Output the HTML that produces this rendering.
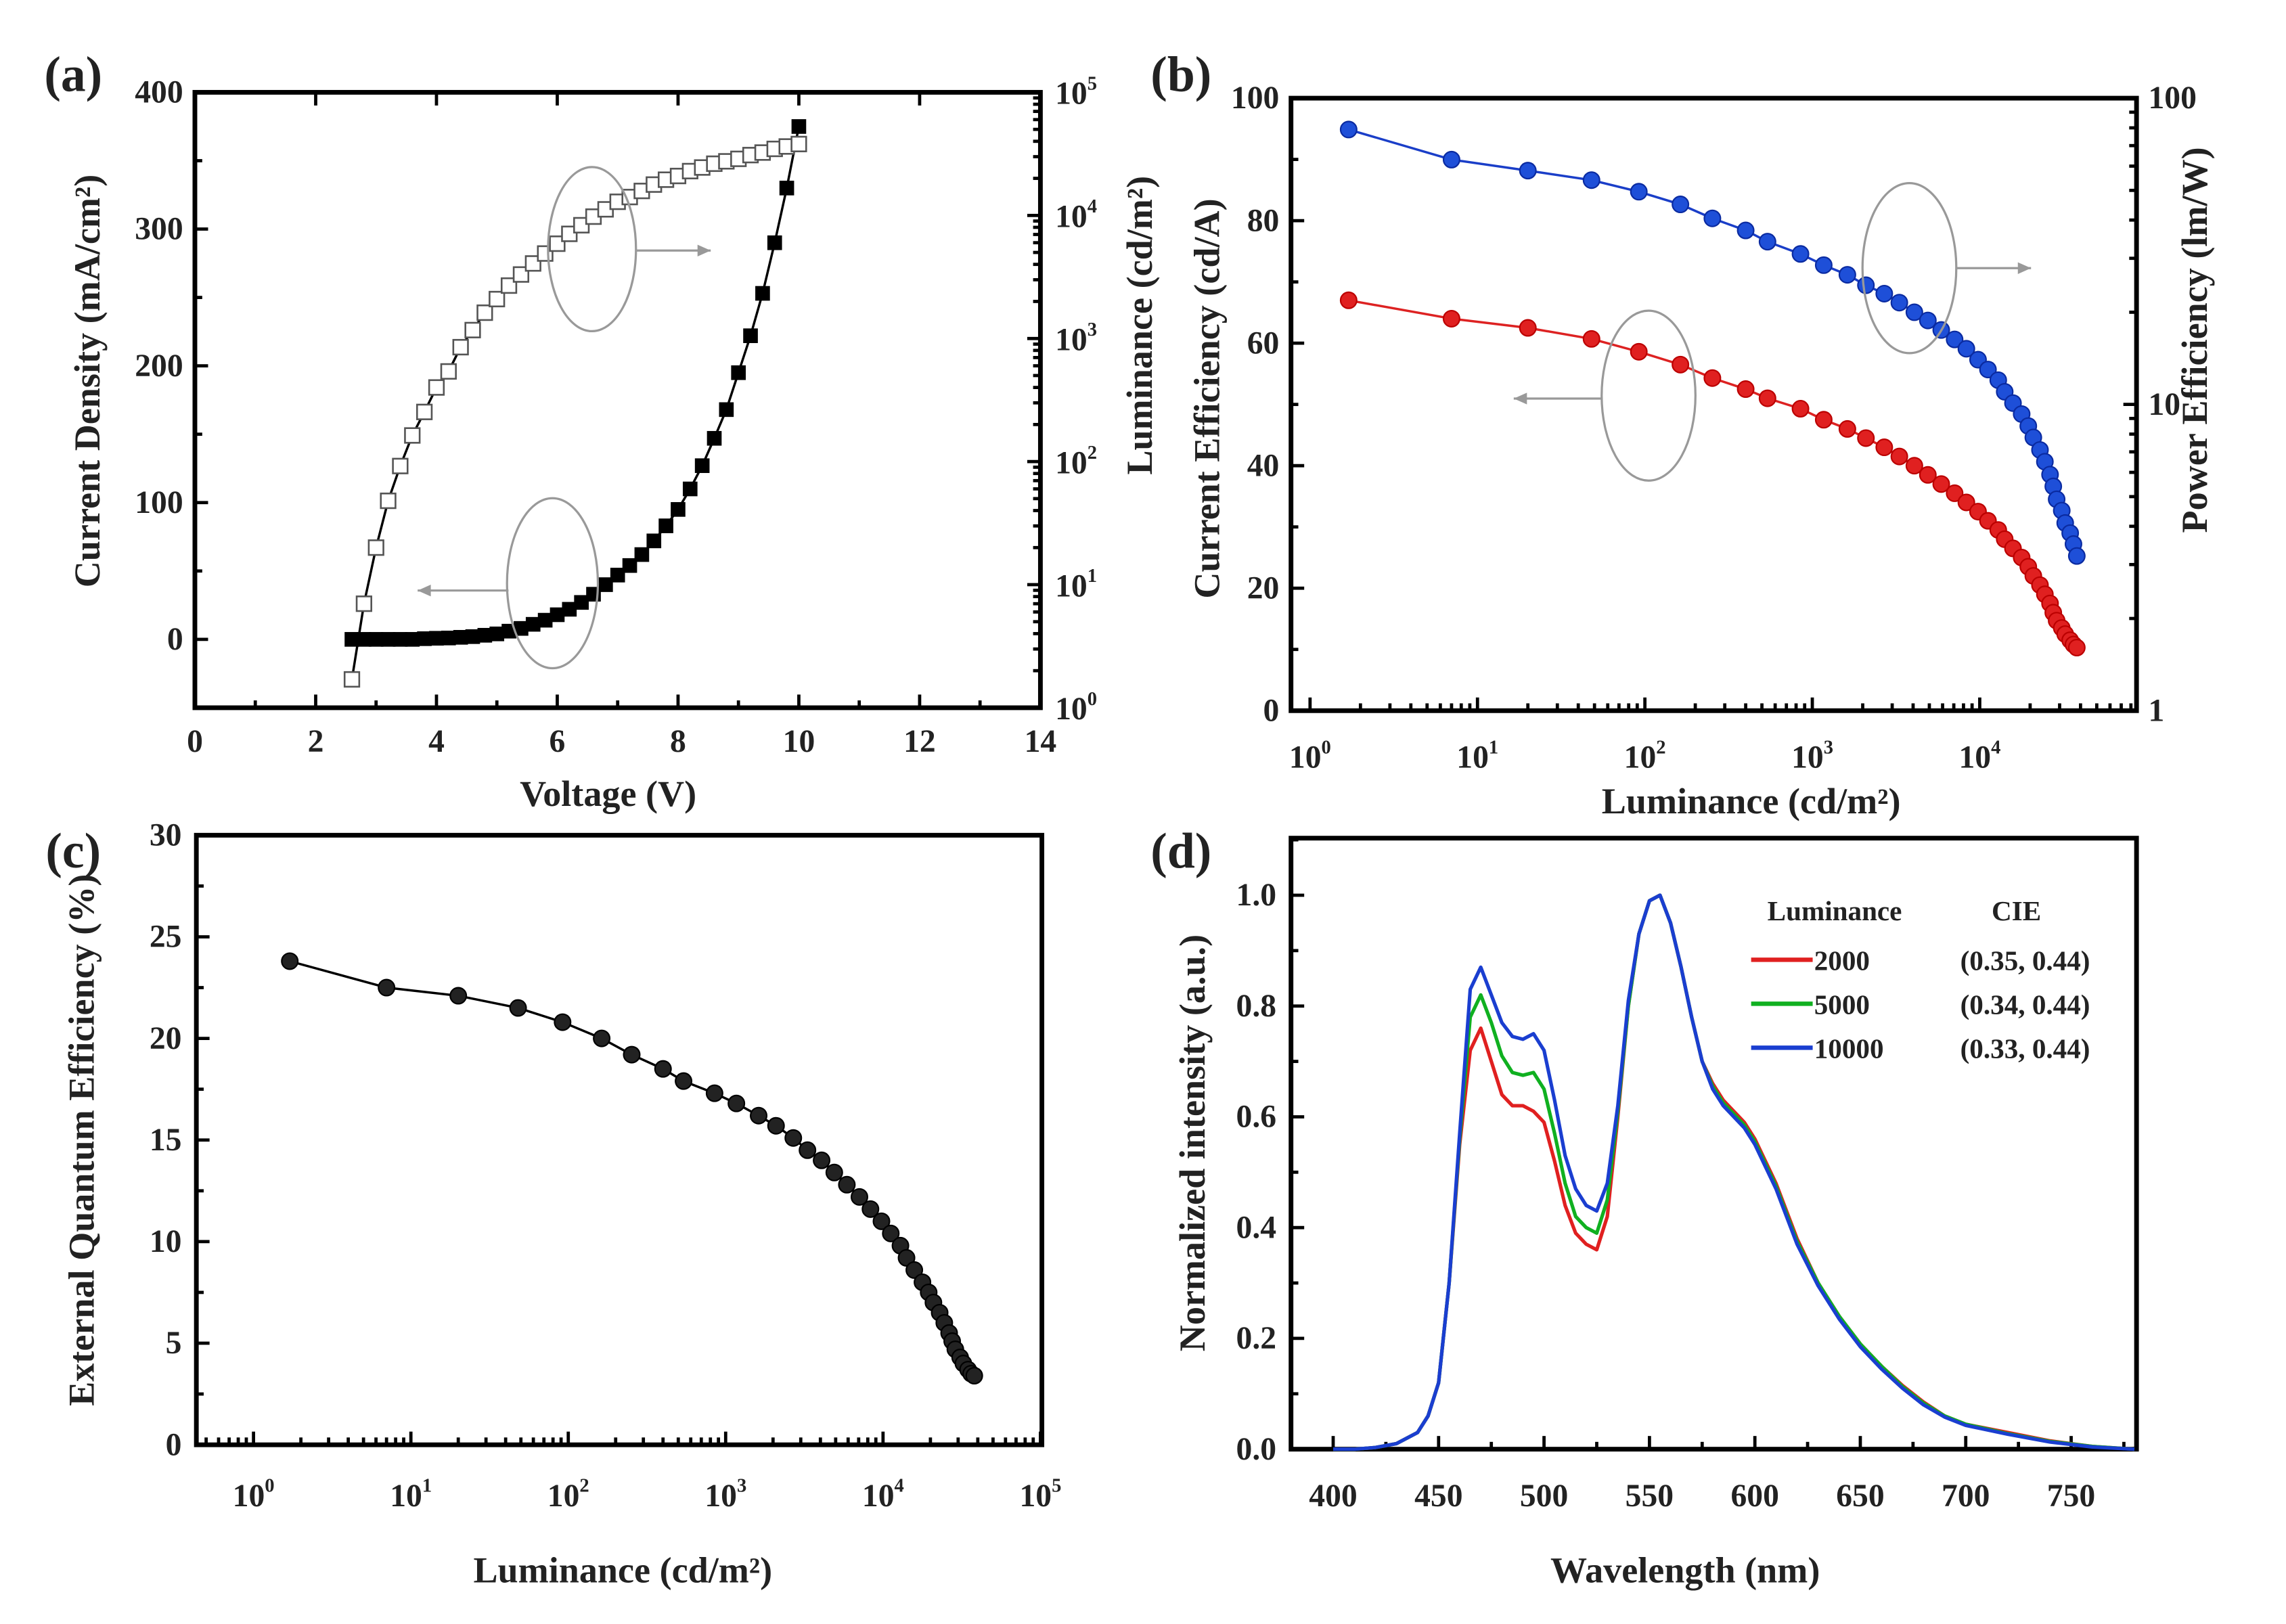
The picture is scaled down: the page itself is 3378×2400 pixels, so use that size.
<!DOCTYPE html>
<html><head><meta charset="utf-8"><style>
html,body{margin:0;padding:0;background:#fff}
svg{display:block}
text{font-family:"Liberation Serif",serif;font-weight:bold;fill:#222}
</style></head><body>
<svg id="fig" width="3378" height="2400" viewBox="0 0 1560 1108.3" preserveAspectRatio="none" xmlns="http://www.w3.org/2000/svg"></svg>
<script>
// ---- Data ----
const voltage = [2.6,2.8,3.0,3.2,3.4,3.6,3.8,4.0,4.2,4.4,4.6,4.8,5.0,5.2,5.4,5.6,5.8,6.0,6.2,6.4,6.6,6.8,7.0,7.2,7.4,7.6,7.8,8.0,8.2,8.4,8.6,8.8,9.0,9.2,9.4,9.6,9.8,10.0];
const currentDensity = [0,0,0,0,0,0,0.5,0.8,1,1.5,2,3,4,6,8,11,14,18,22,27,33,40,47,54,62,72,83,95,110,127,147,168,195,222,253,290,330,375];
const luminance = [1.7,7,20,48,92,163,253,400,540,850,1170,1620,2090,2690,3310,4070,4900,5890,7080,8320,9770,11200,12900,14100,15800,17800,19500,20900,22900,24500,26300,27500,28800,30900,32400,34700,36300,38000];
const currentEff = [67,64,62.5,60.7,58.6,56.5,54.3,52.5,51,49.3,47.5,46,44.5,43,41.5,40,38.5,37,35.5,34,32.5,31,29.5,28,26.5,25,23.5,22,20.5,19,17.5,16,14.7,13.5,12.5,11.5,10.8,10.3];
const powerEff = [79,63,58,54,49.5,45,40.5,37,34,31,28.5,26.5,24.5,23,21.5,20,18.8,17.5,16.3,15.2,14,13,12,11,10.1,9.3,8.5,7.8,7.1,6.5,5.9,5.4,4.9,4.5,4.1,3.8,3.5,3.2];
const eqe = [23.8,22.5,22.1,21.5,20.8,20,19.2,18.5,17.9,17.3,16.8,16.2,15.7,15.1,14.5,14,13.4,12.8,12.2,11.6,11,10.4,9.8,9.2,8.6,8,7.5,7,6.5,6,5.5,5.1,4.7,4.3,4,3.7,3.5,3.4];
const wavelength = [400,410,420,430,440,445,450,455,460,465,470,475,480,485,490,495,500,505,510,515,520,525,530,535,540,545,550,555,560,565,570,575,580,585,590,595,600,610,620,630,640,650,660,670,680,690,700,720,740,760,780];
const spec2000 = [0,0,0.003,0.01,0.03,0.06,0.12,0.3,0.55,0.72,0.76,0.7,0.64,0.62,0.62,0.61,0.59,0.52,0.44,0.39,0.37,0.36,0.42,0.6,0.8,0.93,0.99,1.0,0.95,0.87,0.78,0.7,0.66,0.63,0.61,0.59,0.56,0.48,0.38,0.3,0.24,0.19,0.15,0.115,0.085,0.06,0.045,0.03,0.015,0.005,0];
const spec5000 = [0,0,0.003,0.01,0.03,0.06,0.12,0.3,0.56,0.78,0.82,0.77,0.71,0.68,0.675,0.68,0.65,0.57,0.48,0.42,0.4,0.39,0.45,0.61,0.8,0.93,0.99,1.0,0.95,0.87,0.78,0.7,0.655,0.625,0.605,0.585,0.555,0.475,0.375,0.3,0.24,0.19,0.15,0.113,0.083,0.06,0.045,0.028,0.014,0.005,0];
const spec10000 = [0,0,0.003,0.01,0.03,0.06,0.12,0.3,0.57,0.83,0.87,0.82,0.77,0.745,0.74,0.75,0.72,0.63,0.53,0.47,0.44,0.43,0.48,0.62,0.81,0.93,0.99,1.0,0.95,0.87,0.78,0.7,0.65,0.62,0.6,0.58,0.55,0.47,0.37,0.295,0.235,0.185,0.145,0.11,0.08,0.058,0.043,0.027,0.013,0.004,0];
const legendLum = ["2000","5000","10000"];
const legendCIE = ["(0.35, 0.44)","(0.34, 0.44)","(0.33, 0.44)"];

const NS="http://www.w3.org/2000/svg";
const svg=document.getElementById('fig');
function mk(tag,attrs,parent){const e=document.createElementNS(NS,tag);for(const k in attrs)e.setAttribute(k,attrs[k]);(parent||svg).appendChild(e);return e;}
function txt(s,x,y,size,anchor,parent,rot){const t=mk('text',{x:x,y:y,'font-size':size,'text-anchor':anchor||'middle'},parent);if(rot)t.setAttribute('transform','rotate(-90 '+x+' '+y+')');t.textContent=s;return t;}
function pow10(p,x,y,size,anchor,parent){const t=mk('text',{x:x,y:y,'font-size':size,'text-anchor':anchor||'middle'},parent);t.appendChild(document.createTextNode('10'));const s=mk('tspan',{dy:-size*0.45,'font-size':size*0.6},t);s.textContent=p;return t;}
function lin(v,a,b,p,q){return p+(v-a)/(b-a)*(q-p);}
function logs(v,a,b,p,q){return p+(Math.log10(v)-a)/(b-a)*(q-p);}
function pathFrom(xs,ys,fx,fy){return xs.map((x,i)=>(i?'L':'M')+fx(x).toFixed(2)+' '+fy(ys[i]).toFixed(2)).join(' ');}
function box(g,L,T,R,B){const r=mk('rect',{x:L,y:T,width:R-L,height:B-T,fill:'none',stroke:'#000','stroke-width':3.2},g);}
function tick(g,x1,y1,x2,y2){mk('line',{x1:x1,y1:y1,x2:x2,y2:y2,stroke:'#000','stroke-width':2.2},g);}
function ellipseArrow(g,cx,cy,rx,ry,ax1,ax2,ay){const e=mk('ellipse',{cx:cx,cy:cy,rx:rx,ry:ry,fill:'none',stroke:'#999','stroke-width':1.5},g);
mk('line',{x1:ax1,y1:ay,x2:ax2,y2:ay,stroke:'#999','stroke-width':1.5},g);const d=ax2>ax1?1:-1;mk('path',{d:'M'+ax2+' '+ay+' l'+(-9*d)+' -4 l0 8 z',fill:'#999'},g);}
const TS=22, AS=25, PS=34;

// ===== Panel A =====
(function(){
const g=mk('g');
const L=133,R=710,T=63,B=483;
const fx=v=>lin(v,0,14,L,R), fy=v=>lin(v,-50,400,B,T), fyr=v=>logs(v,0,5,B,T);
box(g,L,T,R,B);
for(let v=0;v<=14;v+=2){tick(g,fx(v),B,fx(v),B-9);if(v<14)tick(g,fx(v+1),B,fx(v+1),B-5);tick(g,fx(v),T,fx(v),T+9);txt(String(v),fx(v),513,TS,'middle',g);}
for(let v=0;v<=400;v+=100){tick(g,L,fy(v),L+9,fy(v));txt(String(v),L-8,fy(v)+7,TS,'end',g);}
for(let v=-50;v<=350;v+=100){tick(g,L,fy(v),L+5,fy(v));}
for(let p=0;p<=5;p++){tick(g,R,fyr(Math.pow(10,p)),R-9,fyr(Math.pow(10,p)));pow10(p,R+10,fyr(Math.pow(10,p))+8,TS,'start',g);if(p<5)for(let m=2;m<10;m++)tick(g,R,fyr(m*Math.pow(10,p)),R-5,fyr(m*Math.pow(10,p)));}
const t1=txt('Current Density (mA/cm²)',68,260,AS,'middle',g,true);
const t2=txt('Luminance (cd/m²)',786,222,AS,'middle',g,true);
const t3=txt('Voltage (V)',415,550,AS,'middle',g);
const pl=txt('(a)',50,62,PS,'middle',g);
const l1=mk('path',{d:pathFrom(voltage,currentDensity,fx,fy),fill:'none',stroke:'#000','stroke-width':1.6},g);
voltage.forEach((v,i)=>{const s=mk('rect',{x:fx(v)-5,y:fy(currentDensity[i])-5,width:10,height:10,fill:'#000'},g);});
const l2=mk('path',{d:pathFrom(voltage,luminance,fx,fyr),fill:'none',stroke:'#000','stroke-width':1.6},g);
voltage.forEach((v,i)=>{const s=mk('rect',{x:fx(v)-5,y:fyr(luminance[i])-5,width:10,height:10,fill:'#fff',stroke:'#555','stroke-width':1.2},g);});
ellipseArrow(g,404,170,30,56,434,485,171);
ellipseArrow(g,377,398,31,58,347,285,403);
})();

// ===== Panel B =====
(function(){
const g=mk('g');
const L=881,R=1458,T=67,B=485;
const fx=v=>logs(v,0,4,894,1351), fy=v=>lin(v,0,100,B,T), fyr=v=>logs(v,0,2,B,T);
box(g,L,T,R,B);
for(let p=0;p<=4;p++){const x=fx(Math.pow(10,p));tick(g,x,B,x,B-9);pow10(p,x,524,TS,'middle',g);for(let m=2;m<10;m++){const xm=fx(m*Math.pow(10,p));if(xm<R)tick(g,xm,B,xm,B-5);}}
for(let v=0;v<=100;v+=20){tick(g,L,fy(v),L+9,fy(v));txt(String(v),L-8,fy(v)+7,TS,'end',g);if(v<100)tick(g,L,fy(v+10),L+5,fy(v+10));}
for(let p=0;p<=2;p++){const y=fyr(Math.pow(10,p));tick(g,R,y,R-9,y);txt(String(Math.pow(10,p)),R+8,y+7,TS,'start',g);if(p<2)for(let m=2;m<10;m++)tick(g,R,fyr(m*Math.pow(10,p)),R-5,fyr(m*Math.pow(10,p)));}
const t1=txt('Current Efficiency (cd/A)',832,272,AS,'middle',g,true);
const t2=txt('Power Efficiency (lm/W)',1506,232,AS,'middle',g,true);
const t3=txt('Luminance (cd/m²)',1195,555,AS,'middle',g);
const pl=txt('(b)',806,62,PS,'middle',g);
const l1=mk('path',{d:pathFrom(luminance,currentEff,fx,fy),fill:'none',stroke:'#d22','stroke-width':1.6},g);
luminance.forEach((v,i)=>{const c=mk('circle',{cx:fx(v),cy:fy(currentEff[i]),r:5.5,fill:'#e02020',stroke:'#b00','stroke-width':1},g);});
const l2=mk('path',{d:pathFrom(luminance,powerEff,fx,fyr),fill:'none',stroke:'#1a3ec8','stroke-width':1.6},g);
luminance.forEach((v,i)=>{const c=mk('circle',{cx:fx(v),cy:fyr(powerEff[i]),r:5.5,fill:'#1e4fd8',stroke:'#0a2aa0','stroke-width':1},g);});
ellipseArrow(g,1303,183,32,58,1335,1386,183);
ellipseArrow(g,1125,270,32,58,1093,1033,272);
})();

// ===== Panel C =====
(function(){
const g=mk('g');
const L=134,R=711,T=570,B=986;
const fx=v=>logs(v,0,5,173,710), fy=v=>lin(v,0,30,B,T);
box(g,L,T,R,B);
for(let p=-1;p<=5;p++){const x=fx(Math.pow(10,p));if(p>=0){tick(g,x,B,x,B-9);pow10(p,x,1028,TS,'middle',g);}if(p<5)for(let m=2;m<10;m++){const xm=fx(m*Math.pow(10,p));if(xm>L&&xm<R)tick(g,xm,B,xm,B-5);}}
for(let v=0;v<=30;v+=5){tick(g,L,fy(v),L+9,fy(v));txt(String(v),L-10,fy(v)+7,TS,'end',g);if(v<30)tick(g,L,fy(v+2.5),L+5,fy(v+2.5));}
const t1=txt('External Quantum Efficiency (%)',64,778,AS,'middle',g,true);
const t3=txt('Luminance (cd/m²)',425,1080,AS,'middle',g);
const pl=txt('(c)',50,592,PS,'middle',g);
const l1=mk('path',{d:pathFrom(luminance,eqe,fx,fy),fill:'none',stroke:'#000','stroke-width':1.6},g);
luminance.forEach((v,i)=>{const c=mk('circle',{cx:fx(v),cy:fy(eqe[i]),r:5.5,fill:'#222',stroke:'#000','stroke-width':1},g);});
})();

// ===== Panel D =====
(function(){
const g=mk('g');
const L=881,R=1458,T=572,B=989;
const fx=v=>lin(v,380,781,L,R), fy=v=>lin(v,0,1.103,B,T);
box(g,L,T,R,B);
for(let v=400;v<=750;v+=50){tick(g,fx(v),B,fx(v),B-9);tick(g,fx(v+25),B,fx(v+25),B-5);txt(String(v),fx(v),1028,TS,'middle',g);}
for(let k=0;k<=5;k++){const v=k*0.2;tick(g,L,fy(v),L+9,fy(v));txt(v.toFixed(1),L-10,fy(v)+7,TS,'end',g);tick(g,L,fy(v+0.1),L+5,fy(v+0.1));}
const t1=txt('Normalized intensity (a.u.)',822,780,AS,'middle',g,true);
const t3=txt('Wavelength (nm)',1150,1080,AS,'middle',g);
const pl=txt('(d)',806,592,PS,'middle',g);
const colors=['#e02020','#10b020','#1a3ed0'];
const series=[spec2000,spec5000,spec10000];
series.forEach((s,i)=>{const p=mk('path',{d:pathFrom(wavelength,s,fx,fy),fill:'none',stroke:colors[i],'stroke-width':2.4,'stroke-linejoin':'round'},g);});
const lg=mk('g',{},g);
txt('Luminance',1252,628,19,'middle',lg);txt('CIE',1376,628,19,'middle',lg);
legendLum.forEach((s,i)=>{const y=655+i*30;const e=mk('g',{},lg);
mk('line',{x1:1195,y1:y,x2:1237,y2:y,stroke:colors[i],'stroke-width':3},e);txt(s,1238,y+7,19,'start',e);txt(legendCIE[i],1382,y+7,19,'middle',e);});
})();
</script>
</body></html>
